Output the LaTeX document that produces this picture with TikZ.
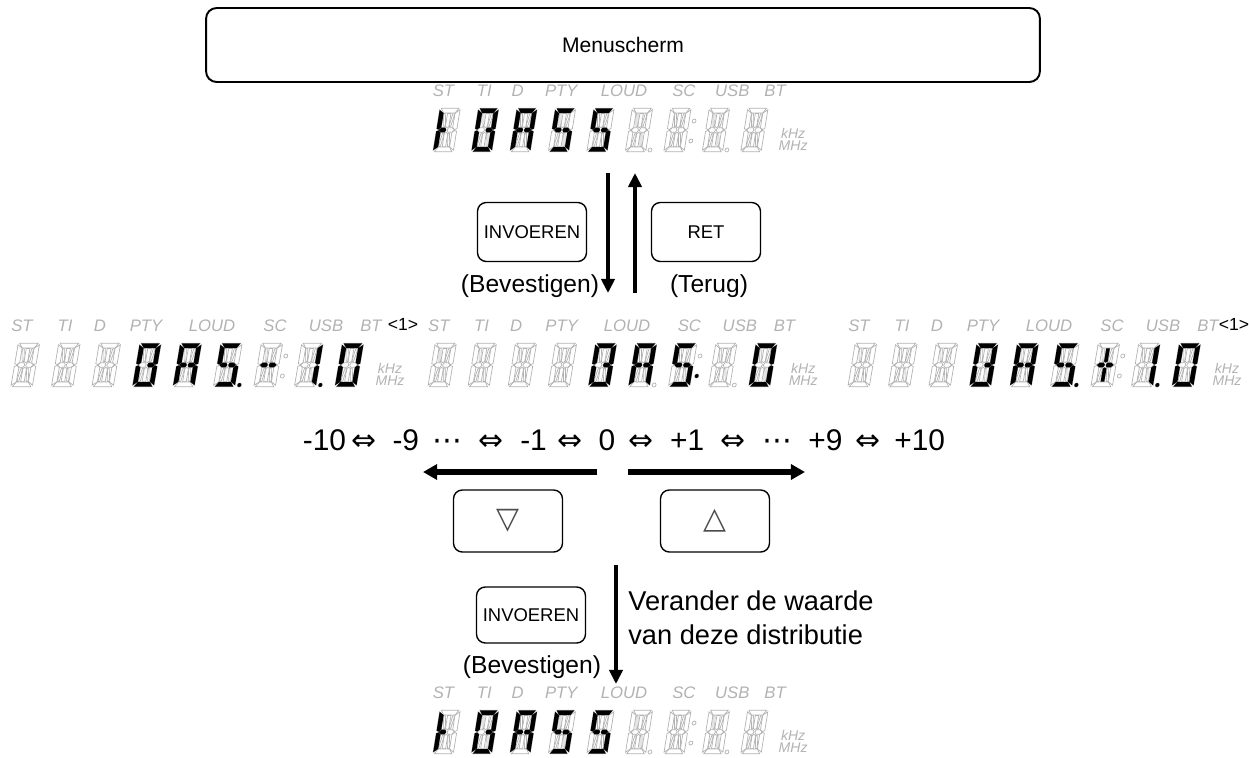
\documentclass[tikz,border=0pt]{standalone}
\usepackage{fontspec}
\setmainfont{Liberation Sans}
\newfontfamily\symfont{DejaVu Sans}
\usetikzlibrary{arrows.meta, positioning, calc}

% segmentos de uma casa de 14 segmentos (unidades em px, y para baixo)
\newcommand{\defseg}[2]{\expandafter\def\csname lcdseg#1\endcsname{#2}}
\newcommand{\lcdpath}[1]{\expandafter\let\expandafter\segpath\csname lcdseg#1\endcsname}
\defseg{a}{(1.8,0.3) -- (20.2,0.3) -- (17,5) -- (5,5) -- cycle}
\defseg{d}{(1.8,43.7) -- (20.2,43.7) -- (17,39) -- (5,39) -- cycle}
\defseg{f}{(0.3,1.8) -- (5,5.2) -- (5,19.5) -- (2.6,21.6) -- (0.3,20.6) -- cycle}
\defseg{e}{(0.3,23.4) -- (2.6,22.4) -- (5,24.5) -- (5,38.8) -- (0.3,42.2) -- cycle}
\defseg{b}{(21.7,1.8) -- (17,5.2) -- (17,19.5) -- (19.4,21.6) -- (21.7,20.6) -- cycle}
\defseg{c}{(21.7,23.4) -- (19.4,22.4) -- (17,24.5) -- (17,38.8) -- (21.7,42.2) -- cycle}
\defseg{g1}{(2.8,22) -- (5.2,19.7) -- (9.3,19.7) -- (10.5,22) -- (9.3,24.3) -- (5.2,24.3) -- cycle}
\defseg{g2}{(11.5,22) -- (12.7,19.7) -- (16.8,19.7) -- (19.2,22) -- (16.8,24.3) -- (12.7,24.3) -- cycle}
\defseg{i}{(9.2,5.4) -- (12.8,5.4) -- (12.8,18.4) -- (11,19.6) -- (9.2,18.4) -- cycle}
\defseg{l}{(9.2,25.6) -- (11,24.4) -- (12.8,25.6) -- (12.8,38.6) -- (9.2,38.6) -- cycle}
\defseg{h}{(5.6,5.6) -- (7.2,5.6) -- (8.7,15.5) -- (8.7,19) -- (7.4,19) -- (5.6,9) -- cycle}
\defseg{j}{(16.4,5.6) -- (14.8,5.6) -- (13.3,15.5) -- (13.3,19) -- (14.6,19) -- (16.4,9) -- cycle}
\defseg{k}{(5.6,38.4) -- (7.2,38.4) -- (8.7,28.5) -- (8.7,25) -- (7.4,25) -- (5.6,35) -- cycle}
\defseg{m}{(16.4,38.4) -- (14.8,38.4) -- (13.3,28.5) -- (13.3,25) -- (14.6,25) -- (16.4,35) -- cycle}
\defseg{p}{(26,42) circle (0.04cm)}
\defseg{cu}{(27,13) circle (0.04cm)}
\defseg{cl}{(27,33) circle (0.04cm)}

% visor completo: nome, posicao, xscale, segmentos acesos n/{lista}
\newcommand{\lcd}[4]{%
  \begin{scope}[shift={#2}, xscale=#3]
    \foreach \ind/\ix in {ST/10, TI/53, D/88, PTY/134, LOUD/200, SC/263, USB/314, BT/359}
      \node[indicator] (#1-\ind) at (\ix,-17) {\ind};
    \node[unitlabel] (#1-khz) at (378,25) {kHz};
    \node[unitlabel] (#1-mhz) at (378,38) {MHz};
    \foreach \n in {1,...,9} {
      \begin{scope}[shift={({6+(\n-1)*40.5},0)}, xslant=0.17]
        \foreach \s in {a,b,c,d,e,f,g1,g2,h,i,j,k,l,m}
          {\lcdpath{\s}\draw[ghost] \segpath;}
      \end{scope}
    }
    \foreach \n/\s in {6/p, 7/cu, 7/cl, 8/p} {
      \begin{scope}[shift={({6+(\n-1)*40.5},0)}, xslant=0.17]
        \lcdpath{\s}\draw[ghost] \segpath;
      \end{scope}
    }
    \foreach \n/\segs in {#4} {
      \begin{scope}[shift={({6+(\n-1)*40.5},0)}, xslant=0.17]
        \foreach \s in \segs {\lcdpath{\s}\fill[lit] \segpath;}
      \end{scope}
    }
  \end{scope}}

\begin{document}
\begin{tikzpicture}[
    x=0.02cm, y=-0.02cm,
    ghost/.style={draw=gray!60, line width=0.4pt},
    lit/.style={fill=black},
    indicator/.style={font=\fontsize{9.5}{10}\selectfont\itshape, text=gray!60, inner sep=0},
    unitlabel/.style={font=\fontsize{8}{8}\selectfont\itshape, text=gray!60, inner sep=0},
    menubox/.style={draw, line width=1.1pt, rounded corners=6pt, minimum width=16.68cm,
        minimum height=1.48cm, font=\fontsize{12}{14}\selectfont},
    keybox/.style={draw, line width=0.8pt, rounded corners=5pt, minimum width=2.18cm,
        minimum height=1.18cm, font=\fontsize{10.5}{12}\selectfont},
    note/.style={font=\fontsize{14}{16}\selectfont, inner sep=0},
    vert arrow/.style={line width=2.3pt, -{Triangle[length=8pt, width=7.5pt]}},
    horiz arrow/.style={line width=3pt, -{Triangle[length=8pt, width=8.5pt]}}
]
    \useasboundingbox (0,0) rectangle (1249,758);

    % 1. Menu
    \node[menubox] (menu) at (623,45) {Menuscherm};
    \lcd{top}{(434,108)}{0.95}{1/{f,g1,e}, 2/{a,b,c,d,e,f,g2}, 3/{a,b,c,e,f,g1,g2},
        4/{a,f,g1,g2,c,d}, 5/{a,f,g1,g2,c,d}}

    % 2. Invoeren / Ret
    \coordinate (dn-a) at (608,173);
    \coordinate (dn-b) at (608,293);
    \coordinate (up-a) at (635,293);
    \coordinate (up-b) at (635,173);
    \draw[vert arrow] (dn-a) -- (dn-b);
    \draw[vert arrow] (up-a) -- (up-b);
    \node[keybox] (enter1) at (532,232) {INVOEREN};
    \node[keybox] (ret) at (706,232) {RET};
    \node[note, anchor=base] (confirm1) at (530,292) {(Bevestigen)};
    \node[note, anchor=base] (back) at (709,292) {(Terug)};

    % 3. Drie visors
    \lcd{left}{(12,343)}{1}{4/{a,b,c,d,e,f,g2}, 5/{a,b,c,e,f,g1,g2}, 6/{a,f,g1,g2,c,d,p},
        7/{g1,g2}, 8/{b,c,p}, 9/{a,b,c,d,e,f}}
    \lcd{mid}{(429,343)}{0.99}{5/{a,b,c,d,e,f,g2}, 6/{a,b,c,e,f,g1,g2}, 7/{a,f,g1,g2,c,d,cl},
        9/{a,b,c,d,e,f}}
    \lcd{right}{(849,343)}{1}{4/{a,b,c,d,e,f,g2}, 5/{a,b,c,e,f,g1,g2}, 6/{a,f,g1,g2,c,d,p},
        7/{g1,g2,i,l}, 8/{b,c,p}, 9/{a,b,c,d,e,f}}
    \node[font=\fontsize{10}{10}\selectfont, inner sep=0] (left-ref) at (403,324) {<1>};
    \node[font=\fontsize{10}{10}\selectfont, inner sep=0] (right-ref) at (1234,324) {<1>};

    % 4. Waarden
    \node[font=\fontsize{17}{18}\selectfont, inner sep=0, anchor=base] (values) at (624,450)
        {-10\,{\symfont ⇔}\hspace{.55em}-9\hspace{.45em}{\symfont ⋯}\hspace{.55em}{\symfont ⇔}\hspace{.55em}-1\hspace{.35em}{\symfont ⇔}\hspace{.55em}0\hspace{.45em}{\symfont ⇔}\hspace{.55em}+1\hspace{.55em}{\symfont ⇔}\hspace{.55em}{\symfont ⋯}\hspace{.55em}+9\hspace{.45em}{\symfont ⇔}\hspace{.45em}+10};
    \coordinate (lt-a) at (597,472);
    \coordinate (lt-b) at (423,472);
    \coordinate (rt-a) at (628,472);
    \coordinate (rt-b) at (805,472);
    \draw[horiz arrow] (lt-a) -- (lt-b);
    \draw[horiz arrow] (rt-a) -- (rt-b);
    \node[keybox, minimum height=1.24cm, font=\fontsize{17}{17}\selectfont, text=gray!60!black]
        (down) at (508,521) {\symfont ▽};
    \node[keybox, minimum height=1.24cm, font=\fontsize{17}{17}\selectfont, text=gray!60!black]
        (up) at (715,521) {\symfont △};

    % 5. Bevestigen
    \coordinate (dn2-a) at (616,565);
    \coordinate (dn2-b) at (616,684);
    \draw[vert arrow] (dn2-a) -- (dn2-b);
    \node[keybox, minimum height=1.12cm] (enter2) at (531,615) {INVOEREN};
    \node[note, anchor=base] (confirm2) at (532,673) {(Bevestigen)};
    \node[note, font=\fontsize{15.5}{19.8}\selectfont, align=left, anchor=north west] (change)
        at (628,590) {Verander de waarde\\van deze distributie};
    \lcd{bot}{(434,710)}{0.95}{1/{f,g1,e}, 2/{a,b,c,d,e,f,g2}, 3/{a,b,c,e,f,g1,g2},
        4/{a,f,g1,g2,c,d}, 5/{a,f,g1,g2,c,d}}

\end{tikzpicture}
\end{document}
